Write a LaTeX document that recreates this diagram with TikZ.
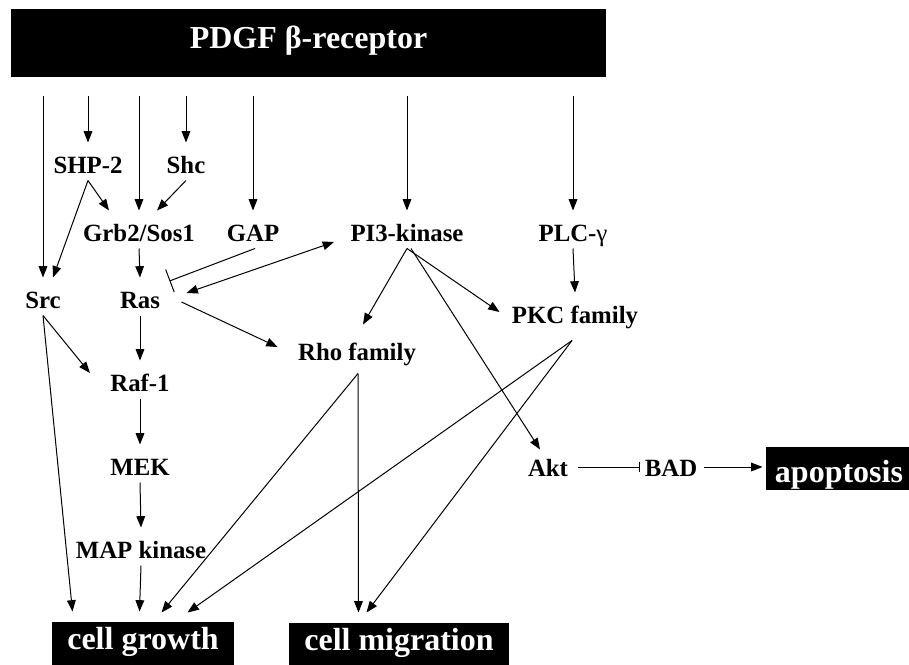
\documentclass[tikz,border=0pt]{standalone}
\usepackage{fontspec}
\setmainfont{Liberation Serif}
\usetikzlibrary{arrows.meta, calc}

\tikzset{
  lbl/.style={inner sep=0pt, anchor=base, text height=22.5pt, text depth=5.25pt,
    font=\fontsize{18.6}{20}\selectfont\bfseries},
  blk/.style={fill=black, text=white, inner sep=0pt, anchor=base,
    font=\fontsize{24}{26}\selectfont\bfseries},
}

\begin{document}
\begin{tikzpicture}[x=0.75pt,y=-0.75pt,->,>={Triangle[length=8.5pt,width=6.5pt]},line width=0.75pt]
  \clip (0,0) rectangle (909,664);
  % boxes
  \node[blk, text height=29.25pt, text depth=21.75pt, minimum width=446.25pt] (pdgf) at (308.5,48) {PDGF β-receptor};
  \node[blk, text height=20.25pt, text depth=14pt, minimum width=136.5pt] (growth) at (143,649) {cell growth};
  \node[blk, text height=20.25pt, text depth=14pt, minimum width=165pt] (migr) at (399,650) {cell migration};
  \node[blk, text height=26.25pt, text depth=6pt, minimum width=109.5pt] (apop) at (839,482) {apoptosis};
  % signalling proteins
  \node[lbl] (shp) at (88,173) {SHP-2};
  \node[lbl] (shc) at (186,173) {Shc};
  \node[lbl] (grb) at (139,241) {Grb2/Sos1};
  \node[lbl] (gap) at (253,241) {GAP};
  \node[lbl] (pik) at (407,241) {PI3-kinase};
  \node[lbl] (plc) at (573,241) {PLC-{\mdseries γ}};
  \node[lbl] (src) at (43,308) {Src};
  \node[lbl] (ras) at (140,308) {Ras};
  \node[lbl] (pkc) at (575,323) {PKC family};
  \node[lbl] (rho) at (357,360) {Rho family};
  \node[lbl] (raf) at (140,391) {Raf-1};
  \node[lbl] (mek) at (140,475) {MEK};
  \node[lbl] (mapk) at (141,558) {MAP kinase};
  \node[lbl] (akt) at (548,476) {Akt};
  \node[lbl] (bad) at (671,476) {BAD};

  \foreach \n in {src,shp,grb,shc,gap,pik,plc}
    \draw[shorten <=13.5pt] (pdgf.south -| \n) -- (\n.north);
  \draw (shp.south) -- ($(grb.north)+(-30,0)$);
  \draw (shp.south) -- ($(src.north)+(10,0)$);
  \draw (shc.south) -- ($(grb.north)+(18,0)$);
  \draw (grb.south) -- (ras.north);
  \draw[-{Bar[width=18pt]}] ($(gap.south)+(2,0)$) -- ($(ras.east)+(9,-15.5)$);
  \draw[<->] ($(ras.east)+(26,-3.5)$) -- ($(pik.west)+(-16,12.5)$);
  \draw ($(ras.east)+(21,5.5)$) -- ($(rho.west)+(-20,-1.5)$);
  \draw (pik.south) -- ($(rho.north)+(6,-5)$);
  \draw (pik.south) -- ($(pkc.west)+(-12,0.5)$);
  \draw ($(pik.south)+(4,0)$) -- ($(akt.north)+(-8,4)$);
  \draw (plc.south) -- (pkc.north);
  % towards the cell responses
  \draw (src.south) -- ($(raf.west)+(-20,-6.5)$);
  \draw (src.south) -- ($(growth.north west)+(21,-10)$);
  \draw (ras.south) -- (raf.north);
  \draw (raf.south) -- (mek.north);
  \draw (mek.south) -- (mapk.north);
  \draw (mapk.south) -- ($(growth.north west)+(88,-10)$);
  \draw ($(rho.south)+(1,6)$) -- ($(growth.north west)+(110,-9)$);
  \draw ($(rho.south)+(1,6)$) -- ($(migr.north west)+(70,-10)$);
  \draw ($(pkc.south)+(-3,10)$) -- ($(growth.north west)+(136,-9)$);
  \draw ($(pkc.south)+(-3,10)$) -- ($(migr.north west)+(78,-10)$);
  \draw[-{Bar[width=7.5pt]}] ($(akt.east)+(10,2.5)$) -- ($(bad.west)+(-4,2.5)$);
  \draw ($(bad.east)+(6,2.5)$) -- ($(apop.west)+(-3,-1.5)$);
\end{tikzpicture}
\end{document}
